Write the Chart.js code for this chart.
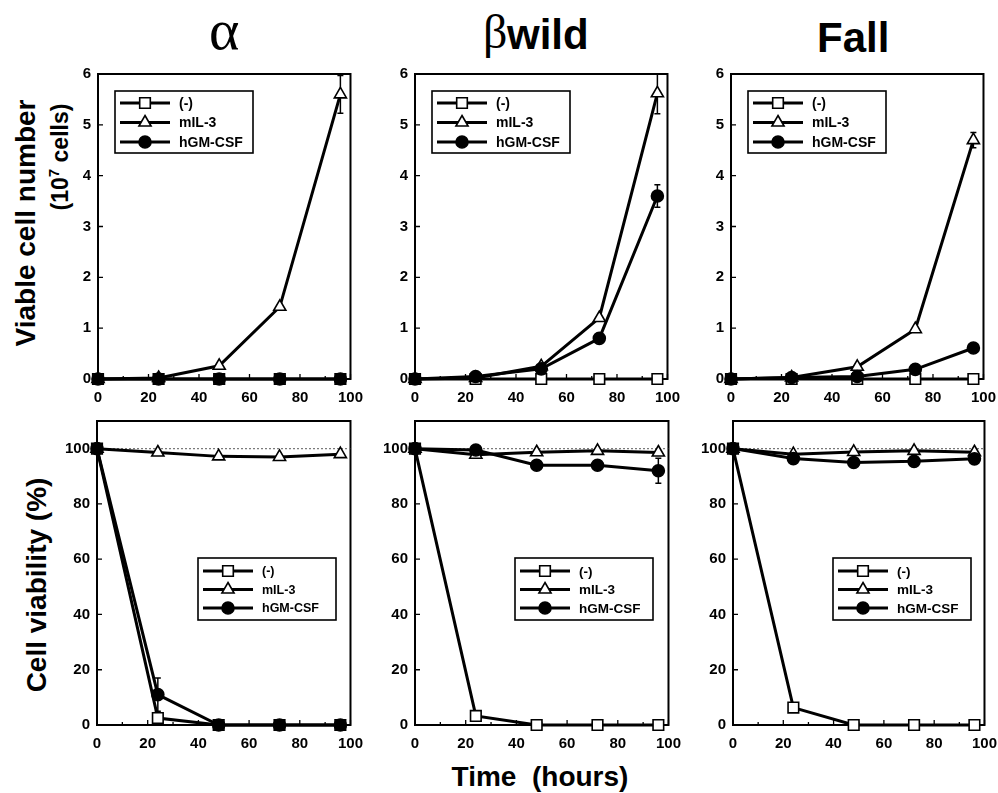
<!DOCTYPE html>
<html>
<head>
<meta charset="utf-8">
<script src="https://cdn.jsdelivr.net/npm/chart.js@4.4.1/dist/chart.umd.min.js"></script>
<style>
html,body{margin:0;padding:0;background:#fff;}
#wrap{position:relative;width:998px;height:793px;overflow:hidden;background:#fff;}
.pnl{position:absolute;}
.pnl canvas{display:block;}
.t{position:absolute;white-space:nowrap;color:#000;line-height:1;}
.sans{font-family:"Liberation Sans",Arial,sans-serif;font-weight:bold;}
.serif{font-family:"Liberation Serif","Times New Roman",serif;font-weight:normal;}
.c{transform:translate(-50%,-50%);}
.rot{transform:translate(-50%,-50%) rotate(-90deg);}
</style>
</head>
<body>
<div id="wrap">
  <div class="t serif" style="left:209px;top:1px;font-size:58px;">α</div>
  <div class="t serif" style="left:483px;top:8px;font-size:48px;">β</div>
  <div class="t sans" style="left:507px;top:14px;font-size:42px;">wild</div>
  <div class="t sans" style="left:817px;top:17px;font-size:42px;">Fall</div>

  <div class="t sans rot" style="left:26px;top:223px;font-size:28px;">Viable cell number</div>
  <div class="t sans rot" style="left:59px;top:157px;font-size:23px;">(10<span style="font-size:15px;vertical-align:9px;">7</span> cells)</div>
  <div class="t sans rot" style="left:37px;top:585px;font-size:28px;">Cell viability (%)</div>
  <div class="t sans c" style="left:540px;top:777px;font-size:28px;">Time&nbsp;&nbsp;(hours)</div>

  <div class="pnl" id="p1"><canvas id="c1"></canvas></div>
  <div class="pnl" id="p2"><canvas id="c2"></canvas></div>
  <div class="pnl" id="p3"><canvas id="c3"></canvas></div>
  <div class="pnl" id="p4"><canvas id="c4"></canvas></div>
  <div class="pnl" id="p5"><canvas id="c5"></canvas></div>
  <div class="pnl" id="p6"><canvas id="c6"></canvas></div>
</div>
<script>
// ---------------- DATA ----------------
const seriesLabels = ['(-)', 'mIL-3', 'hGM-CSF'];
const hours = [0, 24, 48, 72, 96];
const hoursTop = [0, 24, 50, 73, 96];

// Viable cell number (10^7 cells)
const alphaCellNone = [0, 0, 0, 0, 0];
const alphaCellIL3 = [0, 0.02, 0.26, 1.42, 5.6];
const alphaCellIL3Err = [0, 0, 0, 0, 0.37];
const alphaCellGM = [0, 0, 0, 0, 0];

const betaCellNone = [0, 0, 0, 0, 0];
const betaCellIL3 = [0, 0.02, 0.25, 1.2, 5.62];
const betaCellIL3Err = [0, 0, 0, 0, 0.4];
const betaCellGM = [0, 0.05, 0.2, 0.8, 3.6];
const betaCellGMErr = [0, 0, 0, 0, 0.22];

const fallCellNone = [0, 0, 0, 0, 0];
const fallCellIL3 = [0, 0.03, 0.24, 0.98, 4.7];
const fallCellIL3Err = [0, 0, 0, 0, 0.15];
const fallCellGM = [0, 0.03, 0.05, 0.19, 0.61];

// Cell viability (%)
const alphaViaNone = [100, 2.5, 0, 0, 0];
const alphaViaIL3 = [100, 98.6, 97.2, 97, 98];
const alphaViaGM = [100, 11, 0, 0, 0];
const alphaViaGMErr = [0, 6, 0, 0, 0];

const betaViaNone = [100, 3.3, 0, 0, 0];
const betaViaIL3 = [100, 97.8, 98.7, 99.2, 98.6];
const betaViaGM = [100, 99.5, 94, 94, 92];
const betaViaGMErr = [0, 0, 1.5, 1.5, 4.5];

const fallViaNone = [100, 6.3, 0, 0, 0];
const fallViaIL3 = [100, 98, 98.8, 99.2, 98.7];
const fallViaGM = [100, 96.4, 95, 95.4, 96.3];
const fallViaGMErr = [0, 0.8, 1, 1.2, 1];

// reference 100% level
const refX = [0, 100];
const refY = [100, 100];

// tick settings
const xMax = 100, xStep = 20, xMinor = 10;
const cellMax = 6, cellStep = 1;
const viaMax = 110, viaStep = 20, viaLabelMax = 100;

// ---------------- STYLE / BUILD ----------------
const MARK = [
  {style: 'rect', r: 7.5, fill: '#fff'},
  {style: 'triangle', r: 7, fill: '#fff'},
  {style: 'circle', r: 6, fill: '#000'}
];

function series(kind, xs, ys, errs) {
  const m = MARK[kind];
  return {
    label: seriesLabels[kind],
    data: xs.map((x, i) => ({x: x, y: ys[i]})),
    errors: errs || null,
    kind: kind,
    order: 3 - kind,
    clip: false,
    borderColor: '#000',
    borderWidth: 3,
    pointStyle: m.style,
    pointRadius: m.r,
    pointBackgroundColor: m.fill,
    pointBorderColor: '#000',
    pointBorderWidth: 1.6,
    tension: 0,
    fill: false
  };
}
function refSeries() {
  return {
    label: 'ref', isRef: true, order: 10,
    data: refX.map((x, i) => ({x: x, y: refY[i]})),
    borderColor: '#777', borderWidth: 1.2, borderDash: [2, 2],
    pointRadius: 0, fill: false
  };
}

function drawMarker(ctx, kind, x, y) {
  const m = MARK[kind];
  ctx.save();
  ctx.lineWidth = 1.6;
  ctx.strokeStyle = '#000';
  ctx.fillStyle = m.fill;
  ctx.beginPath();
  if (m.style === 'rect') {
    const s = m.r * Math.SQRT1_2;
    ctx.rect(x - s, y - s, 2 * s, 2 * s);
  } else if (m.style === 'triangle') {
    let a = 0;
    ctx.moveTo(x + Math.sin(a) * m.r, y - Math.cos(a) * m.r);
    a += 2 * Math.PI / 3;
    ctx.lineTo(x + Math.sin(a) * m.r, y - Math.cos(a) * m.r);
    a += 2 * Math.PI / 3;
    ctx.lineTo(x + Math.sin(a) * m.r, y - Math.cos(a) * m.r);
    ctx.closePath();
  } else {
    ctx.arc(x, y, m.r, 0, Math.PI * 2);
  }
  ctx.fill();
  ctx.stroke();
  ctx.restore();
}

const paperPlugin = {
  id: 'paper',
  beforeDatasetsDraw(chart) {
    const {ctx, chartArea: a} = chart;
    const xs = chart.scales.x, ys = chart.scales.y;
    ctx.save();
    ctx.beginPath();
    ctx.rect(a.left, a.top, a.width, a.height);
    ctx.clip();
    ctx.strokeStyle = '#000';
    ctx.lineWidth = 1.5;
    chart.data.datasets.forEach(ds => {
      if (!ds.errors) return;
      ds.errors.forEach((e, j) => {
        if (!e) return;
        const p = ds.data[j];
        const px = xs.getPixelForValue(p.x);
        const y1 = ys.getPixelForValue(p.y + e);
        const y2 = ys.getPixelForValue(p.y - e);
        ctx.beginPath();
        ctx.moveTo(px, y1); ctx.lineTo(px, y2);
        ctx.moveTo(px - 3, y1); ctx.lineTo(px + 3, y1);
        ctx.moveTo(px - 3, y2); ctx.lineTo(px + 3, y2);
        ctx.stroke();
      });
    });
    ctx.restore();
  },
  beforeDraw(chart) {
    const {ctx, chartArea: a} = chart;
    const xs = chart.scales.x, ys = chart.scales.y;
    ctx.save();
    ctx.strokeStyle = '#000';
    ctx.lineWidth = 2;
    ctx.strokeRect(a.left, a.top, a.width, a.height);
    ctx.lineWidth = 1.3;
    ctx.beginPath();
    for (let v = 0; v <= xMax; v += xMinor) {
      const px = xs.getPixelForValue(v);
      const len = (v % xStep === 0) ? 5 : 3;
      ctx.moveTo(px, a.bottom); ctx.lineTo(px, a.bottom - len);
    }
    ys.ticks.forEach(t => {
      const py = ys.getPixelForValue(t.value);
      ctx.moveTo(a.left, py); ctx.lineTo(a.left + 5, py);
    });
    ctx.stroke();
    ctx.restore();
  },
  afterDraw(chart, args, opts) {
    const {ctx, chartArea: a} = chart;
    ctx.save();
    const L = opts.legend;
    const bx = a.left + L.dx, by = a.top + L.dy;
    ctx.fillStyle = '#fff';
    ctx.fillRect(bx, by, L.w, L.h);
    ctx.strokeStyle = '#000';
    ctx.lineWidth = 1.6;
    ctx.strokeRect(bx, by, L.w, L.h);
    const items = chart.data.datasets.filter(d => !d.isRef).sort((p, q) => p.kind - q.kind);
    items.forEach((d, i) => {
      const ry = by + L.rows[i];
      ctx.strokeStyle = '#000';
      ctx.lineWidth = 3;
      ctx.beginPath();
      ctx.moveTo(bx + 5, ry); ctx.lineTo(bx + 55, ry);
      ctx.stroke();
      drawMarker(ctx, d.kind, bx + 30, ry);
      ctx.fillStyle = '#000';
      ctx.font = 'bold ' + L.font + 'px "Liberation Sans", Arial, sans-serif';
      ctx.textBaseline = 'middle';
      ctx.textAlign = 'left';
      ctx.fillText(d.label, bx + 64, ry + 1);
    });
    ctx.restore();
  }
};

const tickFont = {family: '"Liberation Sans", Arial, sans-serif', weight: 'bold', size: 15};

function makeChart(n, rect, datasets, yMax, yStep, yLabelMax, legend) {
  const padTop = 20, padRight = 20, yW = 46, xH = 30;
  const div = document.getElementById('p' + n);
  const W = rect.R - rect.L + yW + padRight;
  const H = rect.B - rect.T + padTop + xH;
  div.style.left = (rect.L - yW) + 'px';
  div.style.top = (rect.T - padTop) + 'px';
  const cv = document.getElementById('c' + n);
  cv.width = W; cv.height = H;
  cv.style.width = W + 'px'; cv.style.height = H + 'px';
  new Chart(cv, {
    type: 'line',
    data: {datasets: datasets},
    options: {
      responsive: false,
      animation: false,
      devicePixelRatio: 1,
      layout: {padding: {top: padTop, right: padRight, left: 0, bottom: 0}},
      plugins: {
        legend: {display: false},
        tooltip: {enabled: false},
        paper: {legend: legend}
      },
      scales: {
        x: {
          type: 'linear', min: 0, max: xMax,
          ticks: {stepSize: xStep, color: '#000', font: tickFont, padding: 10, maxRotation: 0, autoSkip: false},
          grid: {display: false, drawTicks: false},
          border: {display: true, color: '#000', width: 2},
          afterFit(s) { s.height = xH; }
        },
        y: {
          type: 'linear', min: 0, max: yMax,
          ticks: {stepSize: yStep, color: '#000', font: tickFont, padding: 7, autoSkip: false},
          grid: {display: false, drawTicks: false},
          border: {display: true, color: '#000', width: 2},
          afterBuildTicks(s) { s.ticks = s.ticks.filter(t => t.value <= yLabelMax); },
          afterFit(s) { s.width = yW; }
        }
      }
    },
    plugins: [paperPlugin]
  });
}

const legendTop = {dx: 17, dy: 17, w: 138, h: 62, rows: [12, 31.5, 51], font: 14};
const legendBot = {dx: 100, dy: 137, w: 138, h: 62, rows: [13, 31.5, 50], font: 13.5};
const legendBotA = {dx: 101, dy: 137, w: 138, h: 62, rows: [13, 31.5, 50], font: 12.5};

makeChart(1, {L: 98, R: 353, T: 74, B: 379}, [
  series(0, hours, alphaCellNone), series(1, hours, alphaCellIL3, alphaCellIL3Err), series(2, hours, alphaCellGM)
], cellMax, cellStep, cellMax, legendTop);
makeChart(2, {L: 415, R: 670, T: 74, B: 379}, [
  series(0, hoursTop, betaCellNone), series(1, hoursTop, betaCellIL3, betaCellIL3Err), series(2, hoursTop, betaCellGM, betaCellGMErr)
], cellMax, cellStep, cellMax, legendTop);
makeChart(3, {L: 731, R: 986, T: 74, B: 379}, [
  series(0, hoursTop, fallCellNone), series(1, hoursTop, fallCellIL3, fallCellIL3Err), series(2, hoursTop, fallCellGM)
], cellMax, cellStep, cellMax, legendTop);

makeChart(4, {L: 97, R: 353, T: 421, B: 725}, [
  refSeries(), series(0, hours, alphaViaNone), series(1, hours, alphaViaIL3), series(2, hours, alphaViaGM, alphaViaGMErr)
], viaMax, viaStep, viaLabelMax, legendBotA);
makeChart(5, {L: 415, R: 671, T: 421, B: 725}, [
  refSeries(), series(0, hours, betaViaNone), series(1, hours, betaViaIL3), series(2, hours, betaViaGM, betaViaGMErr)
], viaMax, viaStep, viaLabelMax, legendBot);
makeChart(6, {L: 733, R: 987, T: 421, B: 725}, [
  refSeries(), series(0, hours, fallViaNone), series(1, hours, fallViaIL3), series(2, hours, fallViaGM, fallViaGMErr)
], viaMax, viaStep, viaLabelMax, legendBot);
</script>
</body>
</html>
